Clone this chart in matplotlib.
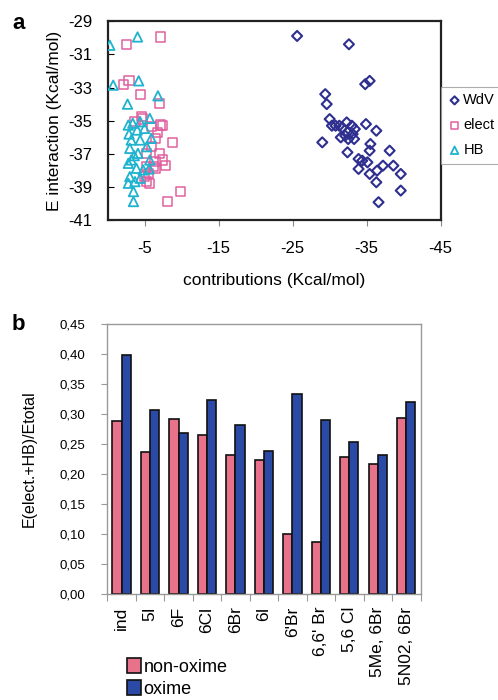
import numpy as np
import matplotlib
matplotlib.use('Agg')
import matplotlib.pyplot as plt

plt.rcParams['font.family'] = ['Liberation Sans', 'DejaVu Sans']
plt.rcParams['axes.unicode_minus'] = False

# panel a: energy contributions vs interaction energy
wdv_x = [-25.6, -32.6, -34.8, -35.4, -29.4, -29.6, -30.0, -30.3, -30.8, -31.3,
         -31.7, -32.3, -33.0, -33.4, -34.9, -36.3, -29.0, -31.5, -32.5, -33.3,
         -33.1, -32.4, -35.5, -35.4, -38.1, -32.4, -33.9, -34.4, -35.1, -33.9,
         -37.2, -38.6, -36.4, -35.4, -39.6, -36.3, -39.6, -36.6, -32.1]
wdv_y = [-29.9, -30.4, -32.8, -32.6, -33.4, -34.0, -34.9, -35.3, -35.3, -35.3,
         -35.4, -35.1, -35.3, -35.5, -35.2, -35.6, -36.3, -36.0, -36.1, -36.1,
         -35.8, -35.7, -36.4, -36.8, -36.8, -36.9, -37.3, -37.4, -37.5, -37.9,
         -37.7, -37.7, -38.0, -38.2, -38.2, -38.7, -39.2, -39.9, -35.9]

elect_x = [-7.2, -2.6, -2.1, -2.9, -4.4, -7.0, -4.7, -7.4, -6.7, -8.8,
           -6.5, -7.0, -7.4, -7.8, -6.4, -6.2, -5.5, -5.3, -9.9, -8.1,
           -5.9, -5.3, -5.9, -3.7, -5.3, -5.0, -5.7, -4.6, -7.1, -6.4]
elect_y = [-29.96, -30.4, -32.8, -32.6, -33.4, -33.96, -34.9, -35.3, -35.7, -36.3,
           -36.06, -36.96, -37.36, -37.7, -37.46, -37.76, -38.16, -38.66, -39.26, -39.86,
           -36.56, -36.96, -35.36, -35.06, -37.76, -38.36, -38.76, -34.76, -35.26, -37.86]

hb_x = [-0.3, -4.05, -0.76, -4.2, -2.7, -6.8, -2.8, -3.4, -4.4, -5.7,
        -4.0, -5.0, -5.9, -3.2, -4.4, -3.0, -5.3, -4.1, -3.2, -5.7,
        -2.8, -3.9, -4.8, -5.6, -3.0, -4.4, -2.8, -3.7, -3.5, -3.5, -2.9, -3.6]
hb_y = [-30.46, -29.96, -32.86, -32.6, -34.0, -33.5, -35.26, -35.15, -35.06, -34.86,
        -35.56, -35.46, -36.06, -36.16, -36.16, -36.66, -36.56, -36.96, -37.36, -37.36,
        -37.56, -37.86, -37.96, -37.9, -38.36, -38.46, -38.76, -38.66, -39.26, -39.86,
        -35.8, -37.1]

# panel b: ratio per compound
compounds = ['ind', '5I', '6F', '6Cl', '6Br', '6I', "6'Br", "6,6' Br",
             '5,6 Cl', '5Me, 6Br', '5N02, 6Br']
non_oxime = [0.288, 0.237, 0.292, 0.265, 0.232, 0.223, 0.100, 0.087, 0.229, 0.217, 0.293]
oxime = [0.398, 0.307, 0.268, 0.323, 0.281, 0.238, 0.333, 0.290, 0.254, 0.231, 0.320]

fig = plt.figure(figsize=(4.98, 7.0), dpi=100)

# ---- panel a ----
ax1 = fig.add_axes([0.216, 0.685, 0.669, 0.285])
ax1.scatter(wdv_x, wdv_y, marker='D', s=26, facecolor='none', edgecolor='#2e2f8f',
            linewidth=1.5, label='WdV', zorder=3)
ax1.scatter(elect_x, elect_y, marker='s', s=44, facecolor='none', edgecolor='#e0609f',
            linewidth=1.1, label='elect', zorder=2)
ax1.scatter(hb_x, hb_y, marker='^', s=46, facecolor='none', edgecolor='#1eb3cf',
            linewidth=1.3, label='HB', zorder=4)
ax1.set_xlim(0, -45)
ax1.set_ylim(-41, -29)
ax1.set_xticks([-5, -15, -25, -35, -45])
ax1.set_yticks(np.arange(-41, -28, 2))
ax1.tick_params(axis='x', direction='out', length=4, labelsize=12, pad=11, color='#888888')
ax1.tick_params(axis='y', direction='in', length=4, labelsize=12, pad=11)
for sp in ax1.spines.values():
    sp.set_linewidth(1.6)
    sp.set_color('#222222')
ax1.set_xlabel('contributions (Kcal/mol)', fontsize=12.5, labelpad=12)
ax1.set_ylabel('E interaction (Kcal/mol)', fontsize=12.5, labelpad=4)
leg1 = ax1.legend(loc='center left', bbox_to_anchor=(1.0, 0.478), fontsize=10.5,
                  handletextpad=0.1, handlelength=1.0, borderpad=0.45,
                  labelspacing=0.75, fancybox=False, edgecolor='#999999',
                  borderaxespad=0.0, markerscale=0.8)
leg1.get_frame().set_linewidth(0.8)
fig.text(0.024, 0.966, 'a', fontsize=16, fontweight='bold', va='center')

# ---- panel b ----
ax2 = fig.add_axes([0.2155, 0.1514, 0.629, 0.3857])
pos = np.arange(len(compounds))
w = 0.32
ax2.bar(pos - w / 2, non_oxime, w, color='#e8728a', edgecolor='#111111',
        linewidth=1.2, label='non-oxime')
ax2.bar(pos + w / 2, oxime, w, color='#2b4aa6', edgecolor='#111111',
        linewidth=1.2, label='oxime')
ax2.set_xlim(-0.5, len(compounds) - 0.5)
ax2.set_ylim(0, 0.45)
yt = np.arange(0, 0.451, 0.05)
ax2.set_yticks(yt)
ax2.set_yticklabels([f'{v:.2f}'.replace('.', ',') for v in yt])
ax2.set_xticks(np.arange(-0.5, len(compounds), 1.0))
ax2.set_xticklabels([])
ax2.set_xticks(pos, minor=True)
ax2.set_xticklabels(compounds, minor=True, rotation=90, fontsize=12.5)
ax2.tick_params(axis='x', which='minor', length=0, pad=9)
ax2.tick_params(axis='x', which='major', direction='out', length=5, color='#999999')
ax2.tick_params(axis='y', direction='out', length=4, color='#999999', labelsize=9.5, pad=12)
for sp in ax2.spines.values():
    sp.set_color('#999999')
    sp.set_linewidth(1.0)
ax2.set_ylabel('E(elect.+HB)/Etotal', fontsize=11.5, labelpad=16)
ax2.legend(loc='upper left', bbox_to_anchor=(0.04, -0.21), fontsize=13,
           frameon=False, handlelength=0.75, handleheight=0.9,
           handletextpad=0.15, labelspacing=0.25, borderaxespad=0.0)
fig.text(0.024, 0.536, 'b', fontsize=16, fontweight='bold', va='center')

fig.savefig('out.png', dpi=100)
